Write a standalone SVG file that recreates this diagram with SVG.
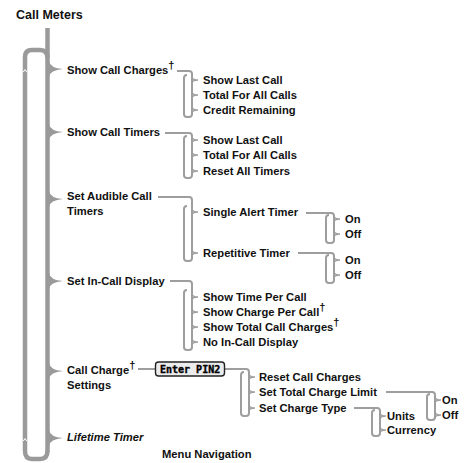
<svg xmlns="http://www.w3.org/2000/svg" width="475" height="463" viewBox="0 0 475 463">
<style>
text{font-family:"Liberation Sans",Arial,sans-serif;font-weight:bold;font-size:11.2px;fill:#111}
.t{font-size:12.5px}
.it{font-style:italic}
.dg{font-size:11px}
.main{fill:none;stroke:#9a9a9a;stroke-width:4.5}
.tip{fill:#9a9a9a}
.br{fill:none;stroke:#9e9e9e;stroke-width:2}
.bt{fill:none;stroke:#9e9e9e;stroke-width:1.4}
.pin{font-family:"DejaVu Sans Mono","Liberation Mono",monospace;font-size:10px;font-weight:bold;fill:#000;stroke:#000;stroke-width:0.35}
</style>
<rect width="475" height="463" fill="#fff"/>
<g id="connectors">
  <path class="main" d="M47.5,28 V452"/>
  <path class="main" d="M47.5,58 Q47.5,50 40,50 H32 Q25,50 25,57 V451 Q25,459 32,459 H40 Q47.5,459 47.5,451"/>
  <path d="M23.3,72 L25,69.5 L26.7,72" fill="none" stroke="#fff" stroke-width="1"/>
  <path d="M23.3,441 L25,438.5 L26.7,441" fill="none" stroke="#fff" stroke-width="1"/>
  <g class="tip">
    <path d="M49,61 Q50,68 63,69 Q50,70 49,77 Z"/>
    <path d="M49,124 Q50,131 63,132 Q50,133 49,140 Z"/>
    <path d="M49,191 Q50,198 63,199 Q50,200 49,207 Z"/>
    <path d="M49,273 Q50,280 63,281 Q50,282 49,289 Z"/>
    <path d="M49,363 Q50,370 63,371 Q50,372 49,379 Z"/>
    <path d="M49,430 Q50,437 63,438 Q50,439 49,446 Z"/>
  </g>
  <path class="br" d="M177,71 H189 Q192,71 192,74 V114 Q192,117 189,117 H187 Q184,117 184,114 V78 Q184,75 187,75"/>
  <path class="bt" d="M192,77 Q192.5,80 198,80 Q192.5,80 192,83 M192,92 Q192.5,95 198,95 Q192.5,95 192,98 M192,107 Q192.5,110 198,110 Q192.5,110 192,113"/>
  <path class="br" d="M165,133 H189 Q192,133 192,136 V175 Q192,178 189,178 H187 Q184,178 184,175 V139 Q184,136 187,136"/>
  <path class="bt" d="M192,137 Q192.5,140 198,140 Q192.5,140 192,143 M192,152 Q192.5,155 198,155 Q192.5,155 192,158 M192,168 Q192.5,171 198,171 Q192.5,171 192,174"/>
  <path class="br" d="M158,197 H189 Q192,197 192,200 V258 Q192,261 189,261 H187 Q184,261 184,258 V209 Q184,206 187,206"/>
  <path class="bt" d="M192,209 Q192.5,212 198,212 Q192.5,212 192,215 M192,250 Q192.5,253 198,253 Q192.5,253 192,256"/>
  <path class="br" d="M306,213 H331 Q334,213 334,216 V240 Q334,243 331,243 H329 Q326,243 326,240 V218 Q326,215 329,215"/>
  <path class="bt" d="M334,216 Q334.5,219 340,219 Q334.5,219 334,222 M334,231 Q334.5,234 340,234 Q334.5,234 334,237"/>
  <path class="br" d="M298,253 H331 Q334,253 334,256 V280 Q334,283 331,283 H329 Q326,283 326,280 V258 Q326,255 329,255"/>
  <path class="bt" d="M334,257 Q334.5,260 340,260 Q334.5,260 334,263 M334,272 Q334.5,275 340,275 Q334.5,275 334,278"/>
  <path class="br" d="M170,281 H189 Q192,281 192,284 V347 Q192,350 189,350 H187 Q184,350 184,347 V293 Q184,290 187,290"/>
  <path class="bt" d="M192,294 Q192.5,297 198,297 Q192.5,297 192,300 M192,309 Q192.5,312 198,312 Q192.5,312 192,315 M192,324 Q192.5,327 198,327 Q192.5,327 192,330 M192,339 Q192.5,342 198,342 Q192.5,342 192,345"/>
  <path class="br" d="M138,369 H155"/>
  <path class="br" d="M225,369 H246 Q249,369 249,372 V413 Q249,416 246,416 H244 Q241,416 241,413 V375 Q241,372 244,372"/>
  <path class="bt" d="M249,374 Q249.5,377 255,377 Q249.5,377 249,380 M249,389 Q249.5,392 255,392 Q249.5,392 249,395 M249,405 Q249.5,408 255,408 Q249.5,408 249,411"/>
  <path class="br" d="M386,392 H432 Q435,392 435,395 V417 Q435,420 432,420 H430 Q427,420 427,417 V397 Q427,394 430,394"/>
  <path class="bt" d="M435,397 Q435.5,400 441,400 Q435.5,400 435,403 M435,412 Q435.5,415 441,415 Q435.5,415 435,418"/>
  <path class="br" d="M354,408 H377 Q380,408 380,411 V433 Q380,436 377,436 H375 Q372,436 372,433 V413 Q372,410 375,410"/>
  <path class="bt" d="M380,413 Q380.5,416 386,416 Q380.5,416 380,419 M380,427 Q380.5,430 386,430 Q380.5,430 380,433"/>
</g>
<g id="title"><text class="t" x="16" y="19">Call Meters</text></g>
<g id="show-call-charges"><text x="67" y="74">Show Call Charges<tspan class="dg" dy="-5">†</tspan></text></g>
<g id="scc-items">
  <text x="203" y="84">Show Last Call</text>
  <text x="203" y="99">Total For All Calls</text>
  <text x="203" y="114">Credit Remaining</text>
</g>
<g id="show-call-timers"><text x="67" y="136">Show Call Timers</text></g>
<g id="sct-items">
  <text x="203" y="144">Show Last Call</text>
  <text x="203" y="159">Total For All Calls</text>
  <text x="203" y="175">Reset All Timers</text>
</g>
<g id="set-audible"><text x="67" y="200">Set Audible Call</text><text x="67" y="215">Timers</text></g>
<g id="single-alert"><text x="203" y="216">Single Alert Timer</text></g>
<g id="single-alert-opts"><text x="345" y="223">On</text><text x="345" y="238">Off</text></g>
<g id="repetitive"><text x="203" y="257">Repetitive Timer</text></g>
<g id="repetitive-opts"><text x="345" y="264">On</text><text x="345" y="279">Off</text></g>
<g id="set-in-call"><text x="67" y="285">Set In-Call Display</text></g>
<g id="sicd-items">
  <text x="203" y="301">Show Time Per Call</text>
  <text x="203" y="316">Show Charge Per Call<tspan class="dg" dy="-5">†</tspan></text>
  <text x="203" y="331">Show Total Call Charges<tspan class="dg" dy="-5">†</tspan></text>
  <text x="203" y="346">No In-Call Display</text>
</g>
<g id="call-charge-settings"><text x="67" y="374">Call Charge<tspan class="dg" dy="-5">†</tspan></text><text x="67" y="389">Settings</text></g>
<g id="enter-pin2">
  <rect x="155.5" y="362" width="69" height="14" rx="3" fill="#ececec" stroke="#222" stroke-width="1.4"/>
  <text class="pin" x="160" y="372.8">Enter PIN2</text>
</g>
<g id="pin-items">
  <text x="259" y="381">Reset Call Charges</text>
  <text x="259" y="396">Set Total Charge Limit</text>
  <text x="259" y="412">Set Charge Type</text>
</g>
<g id="limit-opts"><text x="442" y="404">On</text><text x="442" y="419">Off</text></g>
<g id="type-opts"><text x="387" y="420">Units</text><text x="387" y="434">Currency</text></g>
<g id="lifetime"><text class="it" x="67" y="441">Lifetime Timer</text></g>
<g id="caption"><text x="162" y="458">Menu Navigation</text></g>
</svg>
